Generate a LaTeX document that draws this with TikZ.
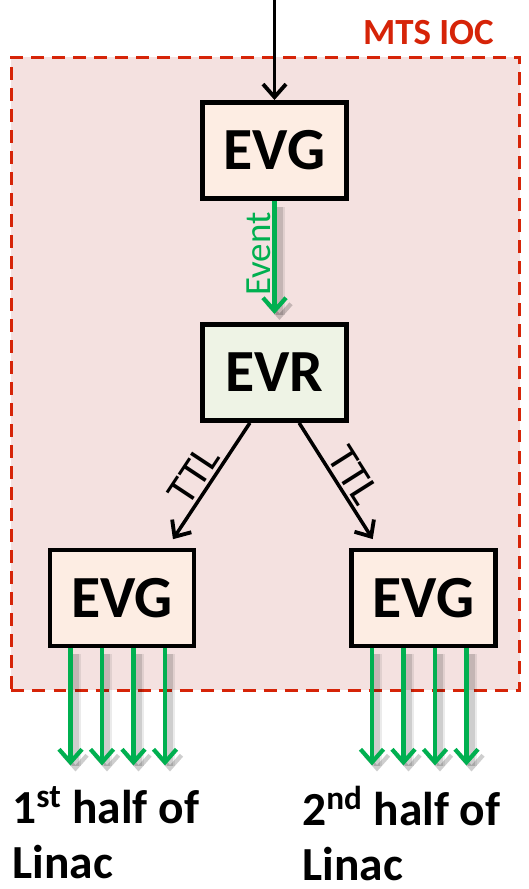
\documentclass[tikz,border=0pt]{standalone}
\usepackage{fontspec}
\setmainfont{Carlito}
\usepackage{tikz}
\usetikzlibrary{arrows.meta,positioning,calc}
\definecolor{iocred}{RGB}{214,36,8}
\definecolor{iocfill}{RGB}{244,225,224}
\definecolor{genfill}{RGB}{253,237,227}
\definecolor{rcvfill}{RGB}{238,243,229}
\definecolor{evgreen}{RGB}{0,176,80}
\tikzset{blk/.style={draw=black,line width=2.8pt,minimum width=2.88cm,minimum height=1.92cm,inner sep=0pt,font=\fontsize{34}{40}\selectfont\bfseries},gen/.style={blk,fill=genfill},rcv/.style={blk,fill=rcvfill},ioc/.style={draw=iocred,dash pattern=on 0.26cm off 0.16cm,line width=2pt,fill=iocfill,inner sep=0pt},link/.style={-{Straight Barb[length=2.6mm,width=4.6mm,line width=2.2pt]},line width=2pt,draw=black},evt/.style={-{Straight Barb[length=2.6mm,width=4.6mm,line width=2.4pt]},line width=2.3pt,draw=evgreen,preaction={draw=black,opacity=.08,line width=6pt,transform canvas={shift={(0.1,-0.12)}}},preaction={draw=black,opacity=.12,line width=3.5pt,transform canvas={shift={(0.1,-0.12)}}}},lbl/.style={font=\fontsize{21}{25}\selectfont,inner sep=3pt},half/.style={align=left,anchor=north west,inner sep=0pt,font=\fontsize{27}{31.3}\selectfont\bfseries}}

\begin{document}
\begin{tikzpicture}
\useasboundingbox (0,0) rectangle (10.56,17.78);
\node[ioc,minimum width=10.16cm,minimum height=12.66cm] (frame) at (5.31,10.30) {};
\node[anchor=base east,text=iocred,font=\fontsize{21}{25}\selectfont\bfseries,inner sep=0pt] (ioclbl) at (9.88,16.88) {MTS IOC};
\node[gen] (evg) at (5.49,14.77) {EVG};
\node[rcv,below=2.42cm of evg] (evr) {EVR};
\node[gen] (evgl) at (2.44,5.82) {EVG};
\node[gen] (evgr) at (8.47,5.82) {EVG};
\coordinate (top) at (evg.north |- 0,17.78);
\draw[link] (top)--(evg.north);
\draw[evt,shorten >=0.16cm] (evg.south)--(evr.north) node[pos=0.44,rotate=90,anchor=south,lbl,inner sep=1pt,text=evgreen] (evtlbl) {Event};
\draw[link,shorten >=0.2cm] (evr.-116)--(evgl.48) node[midway,sloped,above,lbl,font=\fontsize{24}{28}\selectfont,inner sep=1.5pt] (ttll) {TTL};
\draw[link,shorten >=0.2cm] (evr.-64)--(evgr.132) node[midway,sloped,above,lbl,font=\fontsize{24}{28}\selectfont,inner sep=1.5pt] (ttlr) {TTL};
% outputs to the linac
\foreach \dx [count=\i] in {-1.03,-0.40,0.23,0.86}{
  \coordinate (l\i) at ($(evgl.south)+(\dx,-2.34)$);
  \coordinate (r\i) at ($(evgr.south)+(\dx,-2.34)$);
  \draw[evt] (evgl.south -| l\i)--(l\i);
  \draw[evt] (evgr.south -| r\i)--(r\i);
}
\node[half] (firsthalf) at (0.24,2.06) {1\textsuperscript{st} half of\\Linac};
\node[half] (secondhalf) at (6.04,2.06) {2\textsuperscript{nd} half of\\Linac};
\end{tikzpicture}
\end{document}
